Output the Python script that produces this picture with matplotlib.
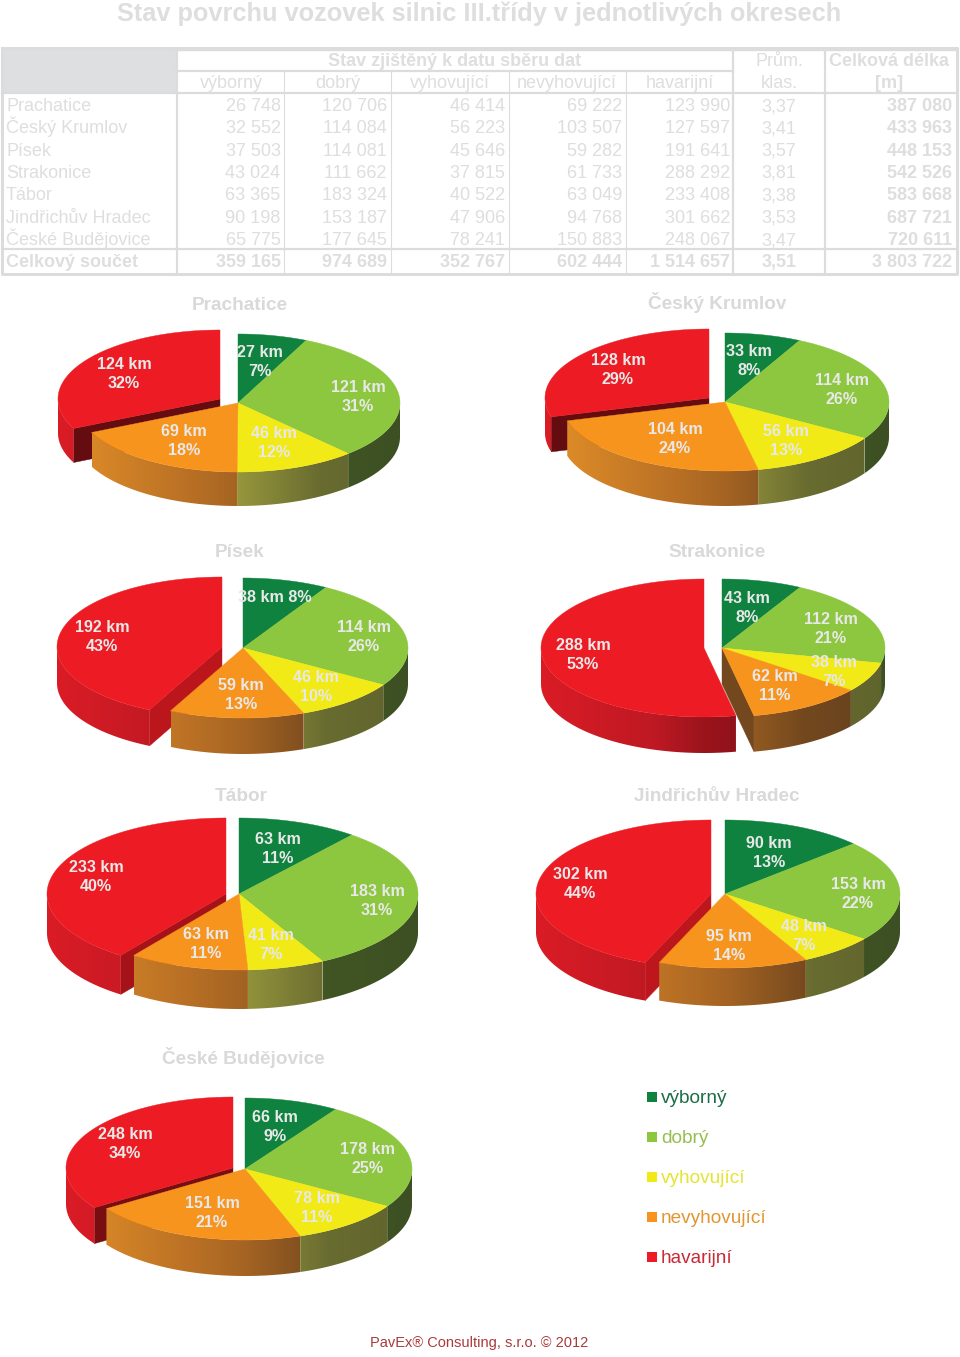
import numpy as np
import matplotlib
matplotlib.use('Agg')
import matplotlib.pyplot as plt
from matplotlib.patches import Polygon

plt.rcParams['font.family'] = ['Liberation Sans', 'DejaVu Sans']

# table data
districts = ['Prachatice', 'Český Krumlov', 'Písek', 'Strakonice', 'Tábor',
             'Jindřichův Hradec', 'České Budějovice']
vyborny = [26748, 32552, 37503, 43024, 63365, 90198, 65775]
dobry = [120706, 114084, 114081, 111662, 183324, 153187, 177645]
vyhovujici = [46414, 56223, 45646, 37815, 40522, 47906, 78241]
nevyhovujici = [69222, 103507, 59282, 61733, 63049, 94768, 150883]
havarijni = [123990, 127597, 191641, 288292, 233408, 301662, 248067]
klas = ['3,37', '3,41', '3,57', '3,81', '3,38', '3,53', '3,47']
delka = [387080, 433963, 448153, 542526, 583668, 687721, 720611]
soucet = [359165, 974689, 352767, 602444, 1514657]
soucet_klas = '3,51'
soucet_delka = 3803722
states = ['výborný', 'dobrý', 'vyhovující', 'nevyhovující', 'havarijní']

# percent labels as printed in the pies
pct_labels = [
    [7, 31, 12, 18, 32],
    [8, 26, 13, 24, 29],
    [8, 26, 10, 13, 43],
    [8, 21, 7, 11, 53],
    [11, 31, 7, 11, 40],
    [13, 22, 7, 14, 44],
    [9, 25, 11, 21, 34],
]

# colours
top_cols = ['#10823f', '#8dc63f', '#f2ea16', '#f7941d', '#ed1c24']
legend_text_cols = ['#1b6e46', '#96be50', '#e4e432', '#e19632', '#c82a36']
grey_text = '#dedede'
grey_line = '#dcdcdc'

# side wall colours, stops over -1 (left of the pie) .. 1 (right of the pie)
wall_u = [-1, -0.3, 0.0, 0.5, 1]
wall_cols = {
    0: [(10, 60, 30)] * 5,
    1: [(110, 130, 50), (100, 120, 45), (95, 115, 45), (65, 85, 35), (60, 80, 35)],
    2: [(170, 170, 65), (160, 158, 62), (150, 150, 60), (105, 108, 48), (95, 100, 45)],
    3: [(222, 140, 40), (185, 112, 37), (165, 100, 35), (115, 72, 30), (100, 65, 30)],
    4: [(218, 28, 38), (190, 25, 35), (155, 20, 28), (130, 15, 25), (120, 15, 25)],
}

# layout of the pies: centre, radii, depth, shift of the red slice
pie_geom = [
    (238, 403, 162, 69, 34, -18, -4),
    (725, 402, 164, 69, 35, -16, -4),
    (243, 648, 165, 70, 36, -21, -1),
    (722, 648, 163, 69, 36, -18, 0),
    (239, 894, 179, 76, 39, -13, 0),
    (725, 894, 175, 74, 38, -14, 0),
    (245, 1169, 167, 71, 36, -12, -1),
]
title_base = [(240, 310), (717, 309), (240, 557), (717, 557), (241, 801), (717, 801), (243, 1064)]
label_pos = [
    [(260, 362), (358, 397), (274, 443), (184, 441), (124, 374)],
    [(749, 361), (842, 390), (786, 441), (675, 439), (618, 370)],
    [(275, 597), (364, 637), (316, 687), (241, 695), (102, 637)],
    [(747, 608), (831, 629), (834, 672), (775, 686), (583, 655)],
    [(278, 849), (377, 901), (271, 945), (206, 944), (96, 877)],
    [(769, 853), (858, 894), (804, 936), (729, 946), (580, 884)],
    [(275, 1127), (368, 1159), (317, 1208), (212, 1213), (125, 1144)],
]

fig = plt.figure(figsize=(9.6, 13.57), dpi=100, facecolor='white')
ax = fig.add_axes([0, 0, 1, 1])
ax.axis('off')

z = [1]  # running draw order for the pie parts


def next_z():
    z[0] += 1
    return z[0]


def draw_wall(i, lo, hi, cx, cy, rx, ry, d):
    # outer wall as a horizontal gradient clipped to the wall outline
    aa = np.radians(np.linspace(lo, hi, 200))
    xs = cx + rx * np.sin(aa)
    ys = cy - ry * np.cos(aa)
    outline = np.r_[np.c_[xs, ys], np.c_[xs[::-1], ys[::-1] + d]]
    xl, xr = xs.min(), xs.max()
    xg = np.linspace(xl, xr, 128)
    stops = np.array(wall_cols[i]) / 255
    grad = np.stack([np.interp((xg - cx) / rx, wall_u, stops[:, k]) for k in range(3)], axis=-1)[None, :, :]
    zz = next_z()
    im = ax.imshow(grad, extent=(xl, xr, ys.max() + d + 1, ys.min() - 1), aspect='auto',
                   interpolation='bilinear', zorder=zz)
    im.set_clip_path(Polygon(outline, closed=True, transform=ax.transData))


def draw_slice(i, a0, a1, cx, cy, rx, ry, d):
    px = lambda a: cx + rx * np.sin(np.radians(a))
    py = lambda a: cy - ry * np.cos(np.radians(a))

    # radial wall next to the detached red slice
    if i == 4 and np.sin(np.radians(a0)) < 0:
        shade = np.clip(0.8 - (a0 - 205) * 0.0095, 0.42, 0.8)
        c = np.array((237, 28, 36)) / 255 * shade
        ax.fill([cx, px(a0), px(a0), cx], [cy, py(a0), py(a0) + d, cy + d], color=c, lw=0.3, zorder=next_z())
    if i == 3 and np.sin(np.radians(a1)) > 0:
        ax.fill([cx, px(a1), px(a1), cx], [cy, py(a1), py(a1) + d, cy + d], color='#73481e', lw=0.3, zorder=next_z())

    # outer wall, bottom half of the ellipse only
    lo, hi = max(a0, 90), min(a1, 270)
    if hi > lo:
        draw_wall(i, lo, hi, cx, cy, rx, ry, d)

    # top
    aa = np.linspace(a0, a1, max(int(a1 - a0) * 2, 2) + 1)
    ax.fill(np.r_[cx, px(aa)], np.r_[cy, py(aa)], color=top_cols[i], lw=0.3, zorder=next_z())


for p in range(7):
    vals = [vyborny[p], dobry[p], vyhovujici[p], nevyhovujici[p], havarijni[p]]
    edges = np.r_[0, np.cumsum(vals)] / sum(vals) * 360
    cx, cy, rx, ry, d, dx, dy = pie_geom[p]
    draw_slice(4, edges[4], edges[5], cx + dx, cy + dy, rx, ry, d)
    for i in range(4):
        draw_slice(i, edges[i], edges[i + 1], cx, cy, rx, ry, d)

    for i in range(5):
        km = f'{vals[i] / 1000:.0f} km'
        pct = f'{pct_labels[p][i]}%'
        x, y = label_pos[p][i]
        # only the Písek green label sits on one line
        s = f'{km} {pct}' if (p == 2 and i == 0) else f'{km}\n{pct}'
        ax.text(x, y, s, ha='center', va='center', color='#e8e8e8', fontsize=11.6,
                fontweight='bold', linespacing=1.28, zorder=1000)
    ax.text(*title_base[p], districts[p], ha='center', va='baseline', color='#d9d9d9',
            fontsize=13.7, fontweight='bold')

# title
ax.text(479, 20.5, 'Stav povrchu vozovek silnic III.třídy v jednotlivých okresech', ha='center',
        va='baseline', color=grey_text, fontsize=18.25, fontweight='bold')

# table frame
ax.fill([2, 176, 176, 2], [48, 48, 93, 93], color='#dedfe0', lw=0)
col_x = [177, 284, 391, 509, 626, 733, 825, 957]
for x in [177, 733, 825]:
    ax.plot([x, x], [50, 273], color=grey_line, lw=1.6)
for x in col_x[1:5]:
    ax.plot([x, x], [71, 273], color=grey_line, lw=0.8)
ax.plot([177, 733], [71, 71], color=grey_line, lw=1.6)
ax.plot([2, 957], [93, 93], color=grey_line, lw=1.6)
ax.plot([2, 957], [249, 249], color=grey_line, lw=1.6)
ax.plot([2, 957, 957, 2, 2], [48, 48, 274, 274, 48], color=grey_line, lw=2.2)
ax.plot([177, 957], [50, 50], color=grey_line, lw=1)

# table header
tkw = dict(va='baseline', color=grey_text, fontsize=13)
ax.text(455, 66, 'Stav zjištěný k datu sběru dat', ha='center', fontweight='bold', **tkw)
for s, x in zip(states, [231, 338, 450, 567, 680]):
    ax.text(x, 88.3, s, ha='center', **tkw)
ax.text(779, 66, 'Prům.', ha='center', **tkw)
ax.text(779, 88.3, 'klas.', ha='center', **tkw)
ax.text(889, 66, 'Celková délka', ha='center', fontweight='bold', **tkw)
ax.text(889, 88.3, '[m]', ha='center', fontweight='bold', **tkw)


def fmt(v):
    return f'{v:,}'.replace(',', ' ')


# table rows
row_base = [111, 133.3, 155.7, 178, 200.3, 222.7, 245]
total_base = 267.3
right_x = [280.5, 387, 505, 622, 730]
for r, y in enumerate(row_base):
    ax.text(6, y, districts[r], ha='left', **tkw)
    vals = [vyborny[r], dobry[r], vyhovujici[r], nevyhovujici[r], havarijni[r]]
    for v, x in zip(vals, right_x):
        ax.text(x, y, fmt(v), ha='right', **tkw)
    ax.text(779, y, klas[r], ha='center', **tkw)
    ax.text(952, y, fmt(delka[r]), ha='right', fontweight='bold', **tkw)
ax.text(6, total_base, 'Celkový součet', ha='left', fontweight='bold', **tkw)
for v, x in zip(soucet, right_x):
    ax.text(x, total_base, fmt(v), ha='right', fontweight='bold', **tkw)
ax.text(779, total_base, soucet_klas, ha='center', fontweight='bold', **tkw)
ax.text(952, total_base, fmt(soucet_delka), ha='right', fontweight='bold', **tkw)

# legend
for s, c, tc, y in zip(states, top_cols, legend_text_cols, [1097, 1137, 1177, 1217, 1257]):
    ax.fill([647, 657, 657, 647], [y - 5, y - 5, y + 5, y + 5], color=c, lw=0)
    ax.text(661, y + 6, s, ha='left', va='baseline', color=tc, fontsize=13.7)

ax.text(479, 1347, 'PavEx® Consulting, s.r.o. © 2012', ha='center', va='baseline',
        color='#ab3a3a', fontsize=10.5)

# imshow resets the view, so the limits go last
ax.set_xlim(0, 960)
ax.set_ylim(1357, 0)

fig.savefig('out.png', dpi=100, facecolor='white')
